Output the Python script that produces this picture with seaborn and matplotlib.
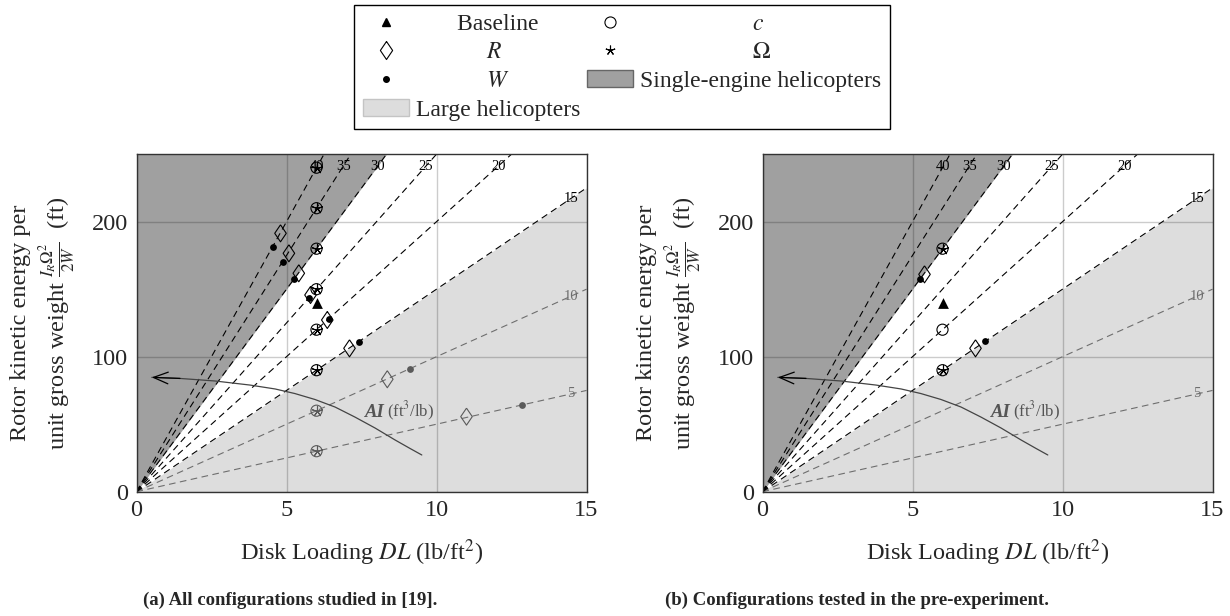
import numpy as np
import matplotlib
matplotlib.use("Agg")
import matplotlib.pyplot as plt
import seaborn as sns
from matplotlib.lines import Line2D
from matplotlib.patches import Patch

# ---------------- data ----------------
ai_levels = [5, 10, 15, 20, 25, 30, 35, 40]
ai_single_engine = 30
ai_large = 15
dl_max = 15
ke_max = 250

baseline_dl = [6.0]
baseline_ke = [140]

# panel (a): all configurations
a_c_dl = [6, 6, 6, 6, 6, 6, 6, 6]
a_c_ke = [30, 60, 90, 120, 150, 180, 210, 240]
a_omega_dl = [6, 6, 6, 6, 6, 6, 6, 6]
a_omega_ke = [30, 60, 90, 120, 150, 180, 210, 240]
a_R_dl = [11.0, 8.36, 7.1, 6.36, 5.8, 5.41, 5.08, 4.8]
a_R_ke = [55.6, 83.3, 106.2, 127.2, 145.7, 161.8, 176.6, 191.4]
a_W_dl = [12.86, 9.1, 7.42, 6.43, 5.74, 5.24, 4.87, 4.56]
a_W_ke = [64.2, 90.9, 111.1, 127.9, 143.3, 157.3, 169.9, 181.5]

# panel (b): pre-experiment configurations
b_c_dl = [6, 6, 6]
b_c_ke = [90, 120, 180]
b_omega_dl = [6, 6]
b_omega_ke = [90, 180]
b_R_dl = [7.1, 5.4]
b_R_ke = [106.2, 161.0]
b_W_dl = [7.42, 5.25]
b_W_ke = [111.3, 157.3]

# AI direction arrow (annotation curve, from its lower end to the arrow tip)
ai_curve_dl = [9.51, 9.12, 8.62, 7.95, 7.28, 6.62, 5.95, 5.28, 4.62, 3.78, 2.62, 1.45, 0.51]
ai_curve_ke = [27.2, 32.0, 38.3, 47.2, 55.3, 62.7, 68.3, 72.7, 76.1, 79.0, 82.0, 83.9, 84.7]

x_ticks = [0, 5, 10, 15]
y_ticks = [0, 100, 200]

# ---------------- style ----------------
sns.set_theme(style="white")
plt.rcParams['font.family'] = ['Liberation Serif', 'DejaVu Serif']
plt.rcParams['mathtext.fontset'] = 'stix'

DARK = '#a0a0a0'
LIGHT = '#dddddd'
GRAY = '#5a5a5a'
LINEGRAY = '#6e6e6e'
FS = 17.5
DIAMOND = [(0, 1), (0.68, 0), (0, -1), (-0.68, 0), (0, 1)]

W_PX, H_PX = 1230, 616
fig = plt.figure(figsize=(12.3, 6.16), dpi=100)


def rect(x0, x1, ytop, ybot):
    return [x0 / W_PX, 1 - ybot / H_PX, (x1 - x0) / W_PX, (ybot - ytop) / H_PX]


ax_a = fig.add_axes(rect(136.5, 586.5, 154.2, 491.7))
ax_b = fig.add_axes(rect(762.5, 1212.5, 154.2, 491.7))


def tone_groups(dl, ke):
    dl = np.asarray(dl, float)
    ke = np.asarray(ke, float)
    low = ke / dl < 12.5
    return [(dl[~low], ke[~low], 'black'), (dl[low], ke[low], GRAY)]


def draw_panel(ax, c, om, R, Wt):
    ax.set_xlim(0, dl_max)
    ax.set_ylim(0, ke_max)
    xs = np.linspace(0, dl_max, 601)
    ax.fill_between(xs, np.minimum(ai_single_engine * xs, ke_max), ke_max,
                    color=DARK, lw=0, zorder=0.5)
    ax.fill_between(xs, 0, np.minimum(ai_large * xs, ke_max),
                    color=LIGHT, lw=0, zorder=0.5)

    for ai in ai_levels:
        x_end = min(dl_max, ke_max / ai)
        col = 'black' if ai >= 15 else LINEGRAY
        sns.lineplot(x=[0, x_end], y=[0, ai * x_end], ax=ax, color=col,
                     lw=0.8, linestyle=(0, (6, 4)), zorder=2)
        t = 0.965
        ax.text(t * x_end, t * ai * x_end, str(ai), ha='center', va='center',
                fontsize=10.5, color=col, zorder=5)

    # AI arrow
    ax.plot(ai_curve_dl, ai_curve_ke, color='#444444', lw=0.9, zorder=2)
    ax.annotate('', xy=(ai_curve_dl[-1], ai_curve_ke[-1]),
                xytext=(ai_curve_dl[-2], ai_curve_ke[-2]),
                arrowprops=dict(arrowstyle='->,head_length=0.7,head_width=0.28',
                                color='black', lw=0.9, mutation_scale=15,
                                shrinkA=0, shrinkB=0), zorder=3)
    ax.text(7.62, 55.5, 'AI', fontsize=13.5, fontstyle='italic', fontweight='bold',
            color='#555555', zorder=5)
    ax.text(8.36, 55.5, '(ft$^3$/lb)', fontsize=12, color='#555555', zorder=5)

    # markers
    for x, y, col in tone_groups(*c):
        if len(x):
            sns.scatterplot(x=x, y=y, ax=ax, marker='o', s=64, color=col,
                            facecolor='none', edgecolor=col, linewidth=0.8,
                            zorder=4, legend=False)
    for x, y, col in tone_groups(*om):
        if len(x):
            sns.scatterplot(x=x, y=y, ax=ax, marker=(5, 2, 0), s=55, color=col,
                            linewidth=0.8, zorder=4, legend=False)
    for x, y, col in tone_groups(*R):
        if len(x):
            sns.scatterplot(x=x, y=y, ax=ax, marker=DIAMOND, s=150, color=col,
                            facecolor='none', edgecolor=col, linewidth=0.8,
                            zorder=4, legend=False)
    for x, y, col in tone_groups(*Wt):
        if len(x):
            sns.scatterplot(x=x, y=y, ax=ax, marker='o', s=24, color=col,
                            edgecolor=col, linewidth=0, zorder=4, legend=False)
    sns.scatterplot(x=baseline_dl, y=baseline_ke, ax=ax, marker='^', s=60,
                    color='black', edgecolor='black', linewidth=0, zorder=4,
                    legend=False)

    ax.set_axisbelow('line')
    ax.grid(True, color='black', alpha=0.2, lw=1.0)
    ax.set_xticks(x_ticks)
    ax.set_yticks(y_ticks)
    ax.tick_params(axis='both', labelsize=FS, direction='in', length=3,
                   color='#555555', pad=6)
    for sp in ax.spines.values():
        sp.set_color('#333333')
        sp.set_linewidth(1.0)
        sp.set_visible(True)
    ax.set_xlabel('Disk Loading $DL$ (lb/ft$^2$)', fontsize=FS, labelpad=12)
    ax.set_ylabel('Rotor kinetic energy per\nunit gross weight '
                  r'$\frac{I_R\Omega^2}{2W}$  (ft)', fontsize=FS, labelpad=10)


draw_panel(ax_a, (a_c_dl, a_c_ke), (a_omega_dl, a_omega_ke),
           (a_R_dl, a_R_ke), (a_W_dl, a_W_ke))
draw_panel(ax_b, (b_c_dl, b_c_ke), (b_omega_dl, b_omega_ke),
           (b_R_dl, b_R_ke), (b_W_dl, b_W_ke))

# ---------------- legend ----------------
handles = [
    Line2D([], [], ls='none', marker='^', color='black', markersize=6),
    Line2D([], [], ls='none', marker=DIAMOND, mfc='none', mec='black',
           markersize=13, mew=0.8),
    Line2D([], [], ls='none', marker='o', color='black', markersize=4),
    Patch(facecolor=LIGHT, edgecolor='#c4c4c4'),
    Line2D([], [], ls='none', marker='o', mfc='none', mec='black',
           markersize=8, mew=0.8),
    Line2D([], [], ls='none', marker=(5, 2, 0), color='black', markersize=7,
           mew=0.8),
    Patch(facecolor=DARK, edgecolor='#666666'),
]
labels = [
    ' ' * 7 + 'Baseline',
    ' ' * 12 + '$R$',
    ' ' * 12 + '$W$',
    'Large helicopters',
    ' ' * 19 + '$c$',
    ' ' * 19 + r'$\Omega$',
    'Single-engine helicopters',
]
leg = fig.legend(handles, labels, ncol=2, loc='upper center',
                 bbox_to_anchor=(622 / W_PX, 1 - 5 / H_PX), frameon=True,
                 fancybox=False, edgecolor='black', framealpha=1, fontsize=17,
                 handlelength=1.95, handleheight=0.7, handletextpad=0.3,
                 columnspacing=0.3, labelspacing=0.3, borderpad=0.35,
                 borderaxespad=0)
leg.get_frame().set_linewidth(1.0)

# ---------------- captions ----------------
fig.text(290 / W_PX, 1 - 600 / H_PX, '(a) All configurations studied in [19].',
         ha='center', va='center', fontsize=13.5, fontweight='bold')
fig.text(857 / W_PX, 1 - 600 / H_PX,
         '(b) Configurations tested in the pre-experiment.',
         ha='center', va='center', fontsize=13.5, fontweight='bold')

fig.savefig('out.png', dpi=100)
